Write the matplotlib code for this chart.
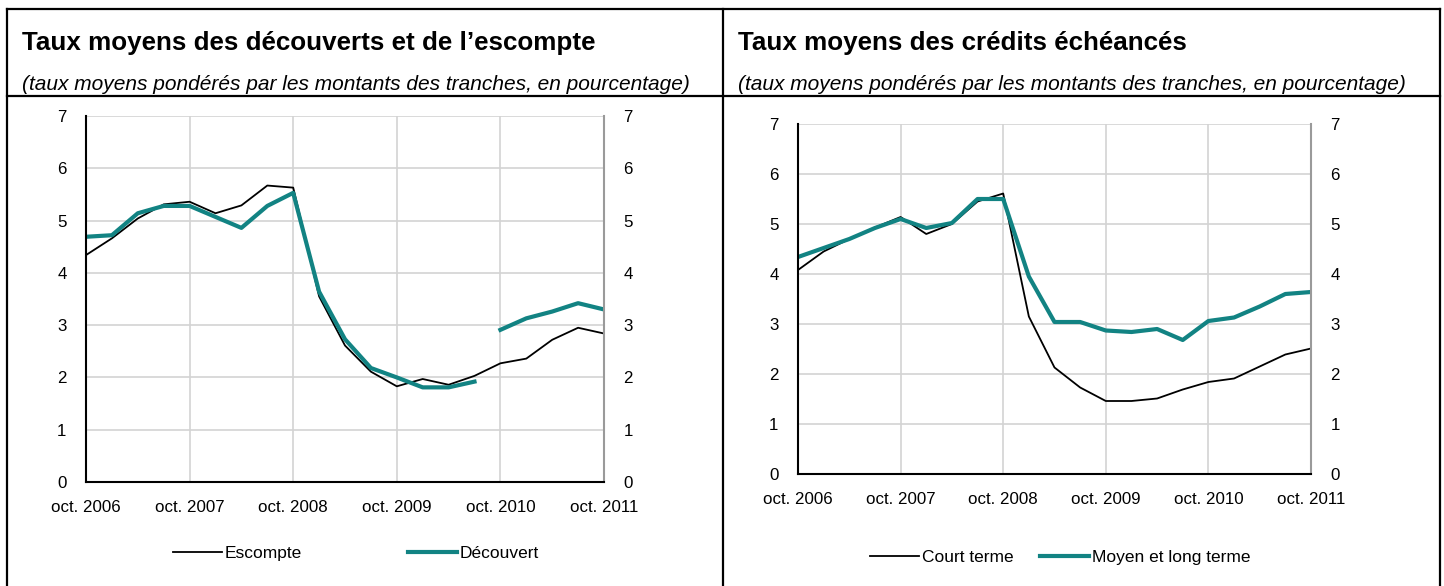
import matplotlib
matplotlib.use("Agg")
import matplotlib.pyplot as plt
import numpy as np
from matplotlib.lines import Line2D

plt.rcParams['font.family'] = ['Liberation Sans', 'DejaVu Sans']

# quarterly observations, oct. 2006 -> oct. 2011
quarters = np.arange(21)
year_ticks = [0, 4, 8, 12, 16, 20]
year_labels = ["oct. 2006", "oct. 2007", "oct. 2008", "oct. 2009", "oct. 2010", "oct. 2011"]

escompte = [4.34, 4.66, 5.04, 5.31, 5.36, 5.14, 5.29, 5.67, 5.63, 3.55, 2.61,
            2.11, 1.83, 1.97, 1.86, 2.03, 2.27, 2.36, 2.72, 2.95, 2.84]
decouvert = [4.69, 4.72, 5.14, 5.28, 5.28, 5.07, 4.86, 5.28, 5.53, 3.64, 2.73,
             2.18, 2.00, 1.81, 1.81, 1.92, 2.91, 3.13, 3.26, 3.42, 3.30]
decouvert_break = 16  # series break between Q15 and Q16

court_terme = [4.08, 4.45, 4.70, 4.93, 5.14, 4.80, 5.00, 5.45, 5.61, 3.15, 2.13,
               1.73, 1.46, 1.46, 1.51, 1.69, 1.84, 1.91, 2.15, 2.39, 2.51]
moyen_long = [4.34, 4.52, 4.70, 4.92, 5.10, 4.92, 5.02, 5.50, 5.50, 3.95, 3.04,
              3.04, 2.87, 2.84, 2.90, 2.68, 3.06, 3.13, 3.35, 3.60, 3.64]

TEAL = "#128383"
W, H = 1444, 586

fig = plt.figure(figsize=(W / 100, H / 100), dpi=100)


def px_axes(x0, y0, x1, y1):
    return fig.add_axes([x0 / W, 1 - y1 / H, (x1 - x0) / W, (y1 - y0) / H])


def style_axes(ax):
    ax.set_xlim(0, 20)
    ax.set_ylim(0, 7)
    ax.set_xticks(year_ticks)
    ax.set_xticklabels(year_labels)
    ax.set_yticks(range(8))
    ax.grid(True, color="#d3d3d3", lw=1.2)
    ax.set_axisbelow(True)
    ax.tick_params(axis="both", length=0, labelsize=12.2)
    ax.tick_params(axis="y", labelright=True, pad=14)
    ax.tick_params(axis="x", pad=13)
    ax.spines["top"].set_visible(False)
    ax.spines["right"].set_color("#9a9a9a")
    ax.spines["right"].set_linewidth(1.5)
    ax.spines["left"].set_linewidth(1.5)
    ax.spines["bottom"].set_linewidth(1.5)
    ax.spines["left"].set_zorder(3)


# left chart
ax1 = px_axes(86, 116, 604, 482)
style_axes(ax1)
ax1.plot(quarters, escompte, color="black", lw=1.3)
ax1.plot(quarters[:decouvert_break], decouvert[:decouvert_break], color=TEAL, lw=3)
ax1.plot(quarters[decouvert_break:], decouvert[decouvert_break:], color=TEAL, lw=3)

# right chart
ax2 = px_axes(798, 124, 1311, 474)
style_axes(ax2)
ax2.plot(quarters, court_terme, color="black", lw=1.3)
ax2.plot(quarters, moyen_long, color=TEAL, lw=3)

# frame lines
for x in (7, 723, 1440):
    fig.add_artist(Line2D([x / W, x / W], [0, 1 - 9 / H], color="black", lw=1.6))
for y in (9, 96):
    fig.add_artist(Line2D([7 / W, 1440 / W], [1 - y / H, 1 - y / H], color="black", lw=1.6))

# titles
fig.text(22 / W, 1 - 43 / H, "Taux moyens des découverts et de l\u2019escompte",
         fontsize=18.7, fontweight="bold", va="center", ha="left")
fig.text(738 / W, 1 - 43 / H, "Taux moyens des crédits échéancés",
         fontsize=18.7, fontweight="bold", va="center", ha="left")
sub = "(taux moyens pondérés par les montants des tranches, en pourcentage)"
fig.text(22 / W, 1 - 84 / H, sub, fontsize=15, style="italic", va="center", ha="left")
fig.text(738 / W, 1 - 84 / H, sub, fontsize=15, style="italic", va="center", ha="left")


# legends
def legend_entry(x, y, label, color, lw):
    h = Line2D([], [], color=color, lw=lw)
    fig.legend(handles=[h], labels=[label], loc="center left",
               bbox_to_anchor=(x / W, 1 - y / H), frameon=False, borderpad=0,
               borderaxespad=0, handlelength=2.8, handletextpad=0.2, fontsize=12.5)


legend_entry(173, 553, "Escompte", "black", 1.3)
legend_entry(408, 553, "Découvert", TEAL, 3)
legend_entry(870, 557, "Court terme", "black", 1.3)
legend_entry(1040, 557, "Moyen et long terme", TEAL, 3)

fig.savefig("out.png", dpi=100)
